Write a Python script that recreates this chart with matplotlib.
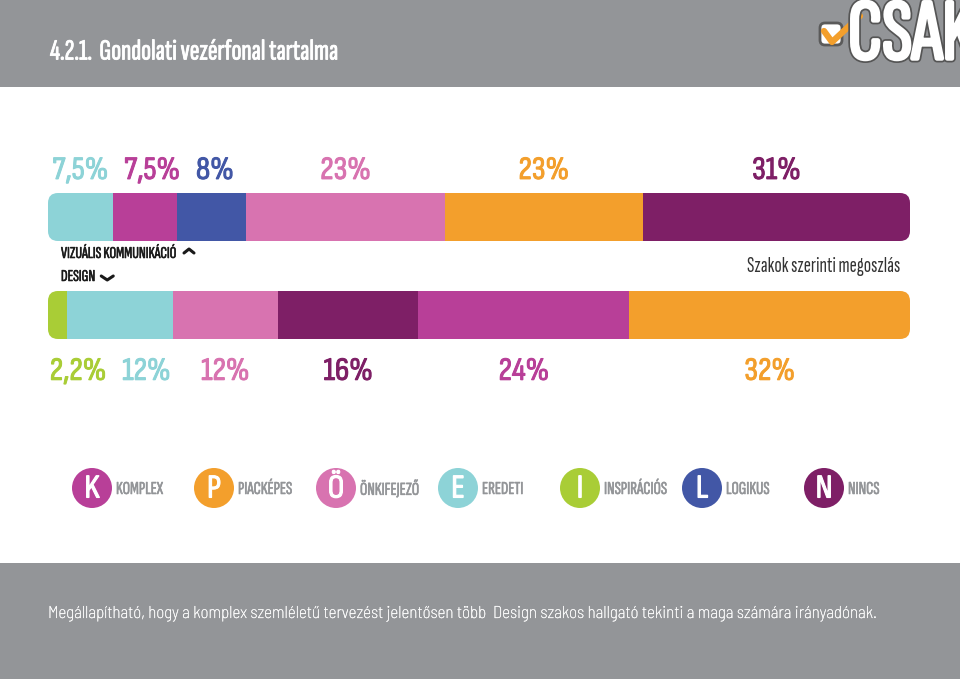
import matplotlib.pyplot as plt
import numpy as np
import matplotlib.patheffects as pe
from matplotlib.patches import FancyBboxPatch, Circle, Rectangle

plt.rcParams['font.family'] = ['Barlow Condensed', 'DejaVu Sans']
XCOND = ['Sofia Sans Extra Condensed', 'Fira Sans Extra Condensed', 'DejaVu Sans']
SCOND = ['Sofia Sans Condensed', 'Barlow Condensed', 'DejaVu Sans']
LIGHT = ['Barlow Semi Condensed', 'DejaVu Sans']


def bold(color, lw=1.0):
    # faux bold: stroke the glyphs in their own colour
    return [pe.withStroke(linewidth=lw, foreground=color)]


# colours
GRAY = '#939598'
TEAL = '#8dd3d7'
MAGENTA = '#b83f98'
BLUE = '#4257a6'
PINK = '#d873b0'
ORANGE = '#f39f2c'
PURPLE = '#7e1f66'
GREEN = '#a9cd36'

# data
bar_names = ['VIZUÁLIS KOMMUNIKÁCIÓ', 'DESIGN']
vk_values = [7.5, 7.5, 8, 23, 23, 31]
vk_labels = ['7,5%', '7,5%', '8%', '23%', '23%', '31%']
vk_colors = [TEAL, MAGENTA, BLUE, PINK, ORANGE, PURPLE]
d_values = [2.2, 12, 12, 16, 24, 32]
d_labels = ['2,2%', '12%', '12%', '16%', '24%', '32%']
d_colors = [GREEN, TEAL, PINK, PURPLE, MAGENTA, ORANGE]

legend_letters = ['K', 'P', 'Ö', 'E', 'I', 'L', 'N']
legend_names = ['KOMPLEX', 'PIACKÉPES', 'ÖNKIFEJEZŐ', 'EREDETI', 'INSPIRÁCIÓS', 'LOGIKUS', 'NINCS']
legend_colors = [MAGENTA, ORANGE, PINK, TEAL, GREEN, BLUE, PURPLE]

title = '4.2.1.  Gondolati vezérfonal tartalma'
subtitle = 'Szakok szerinti megoszlás'
footer = ('Megállapítható, hogy a komplex szemléletű tervezést jelentősen több  '
          'Design szakos hallgató tekinti a maga számára irányadónak.')

W, H = 960, 679
fig = plt.figure(figsize=(W / 100, H / 100), dpi=100)
renderer = fig.canvas.get_renderer()


def fit(t, target_px):
    # scale the font so that the text is target_px wide
    w = t.get_window_extent(renderer).width
    t.set_fontsize(t.get_fontsize() * target_px / w)
    return t.get_fontsize()


# background layer in pixel units
bg = fig.add_axes([0, 0, 1, 1])
bg.set_xlim(0, W)
bg.set_ylim(H, 0)
bg.axis('off')
bg.add_patch(Rectangle((0, 0), W, 87, color=GRAY, lw=0))
bg.add_patch(Rectangle((0, 563), W, H - 563, color=GRAY, lw=0))

t = bg.text(50, 52, title, color='white', fontsize=20, va='center', ha='left', family=XCOND,
            path_effects=bold('white', 0.6))
fit(t, 288)

# logo
bg.add_patch(FancyBboxPatch((820, 23), 22, 22, boxstyle='round,pad=0,rounding_size=5',
                            fc='white', ec='#5a5a5a', lw=2))
bg.plot([824, 832, 860], [31, 42, 16], color=ORANGE, lw=4.5, solid_capstyle='round',
        solid_joinstyle='round')
t = bg.text(848, 37, 'CSAK!', color='white', fontsize=40, va='center', ha='left', family=XCOND,
            path_effects=[pe.withStroke(linewidth=5, foreground='#555555'),
                          pe.withStroke(linewidth=2.5, foreground='white')])
fit(t, 140)

# stacked bars
bx0, bx1, by0, by1 = 48, 910, 193, 339
ax = fig.add_axes([bx0 / W, 1 - by1 / H, (bx1 - bx0) / W, (by1 - by0) / H])
ax.set_xlim(0, 100)
ax.set_ylim(1.245, -0.245)
ax.axis('off')

probe = ax.text(0, 0, '7,5%', fontsize=24, family=SCOND)
pct_size = fit(probe, 56)
probe.remove()

px_x = (bx1 - bx0) / 100
px_y = (by1 - by0) / 1.49
bar_h = 0.49
rows = [(vk_values, vk_labels, vk_colors, -0.47), (d_values, d_labels, d_colors, 1.58)]
for i, (vals, labs, cols, ly) in enumerate(rows):
    vals = np.array(vals, dtype=float)
    widths = vals / vals.sum() * 100
    lefts = np.concatenate([[0], np.cumsum(widths)[:-1]])
    clip = FancyBboxPatch((0, i - bar_h / 2), 100, bar_h,
                          boxstyle='round,pad=0,rounding_size=%f' % (10 / px_x),
                          mutation_aspect=px_x / px_y, transform=ax.transData,
                          fc='none', ec='none')
    bars = ax.barh(i, widths, left=lefts, height=bar_h, color=cols, lw=0)
    for b in bars:
        b.set_clip_path(clip)
    prev_end = -1e9
    for l, w, lab, c in zip(lefts, widths, labs, cols):
        if w < 5:
            x, ha = l + 0.2, 'left'
        else:
            x, ha = l + w / 2, 'center'
        t = ax.text(x, ly, lab, color=c, fontsize=pct_size, ha=ha, va='center',
                    clip_on=False, family=SCOND, path_effects=bold(c, 0.7))
        # push a label right if it would run into the previous one
        bb = t.get_window_extent(renderer)
        gap = prev_end + 16 - bb.x0
        if gap > 0:
            t.set_x(x + gap / px_x)
            bb = t.get_window_extent(renderer)
        prev_end = bb.x1

# bar names with carets
INK = '#1a1a1a'
t = bg.text(61, 254, bar_names[0], color=INK, fontsize=11, va='center', family=XCOND,
            path_effects=bold(INK, 0.4))
name_size = fit(t, 115)
x1 = t.get_window_extent(renderer).x1
bg.plot([x1 + 8, x1 + 13, x1 + 18], [253, 249, 253], color=INK, lw=2.2, solid_capstyle='round')
t = bg.text(61, 277, bar_names[1], color=INK, fontsize=name_size, va='center', family=XCOND,
            path_effects=bold(INK, 0.4))
x1 = t.get_window_extent(renderer).x1
bg.plot([x1 + 6, x1 + 12, x1 + 18], [276, 280, 276], color=INK, lw=2.2, solid_capstyle='round')

t = bg.text(900, 266, subtitle, color='#333333', fontsize=13, ha='right', va='center',
            family=XCOND)
fit(t, 152)

# legend
lx = 92 + 122 * np.arange(len(legend_letters))
probe = bg.text(0, 0, legend_names[0], fontsize=11, family=XCOND)
leg_size = fit(probe, 47)
probe.remove()
for x, letter, name, c in zip(lx, legend_letters, legend_names, legend_colors):
    bg.add_patch(Circle((x, 488), 20, color=c, lw=0))
    bg.text(x, 489, letter, color='white', fontsize=24, ha='center', va='center',
            family=SCOND, path_effects=bold('white', 0.8))
    bg.text(x + 24, 489, name, color=GRAY, fontsize=leg_size, ha='left', va='center',
            family=XCOND, path_effects=bold(GRAY, 0.4))

t = bg.text(48, 614, footer, color='white', fontsize=13, ha='left', va='center',
            fontweight='light', family=LIGHT, path_effects=bold('white', 0.2))
fit(t, 830)

fig.savefig('out.png', dpi=100)
